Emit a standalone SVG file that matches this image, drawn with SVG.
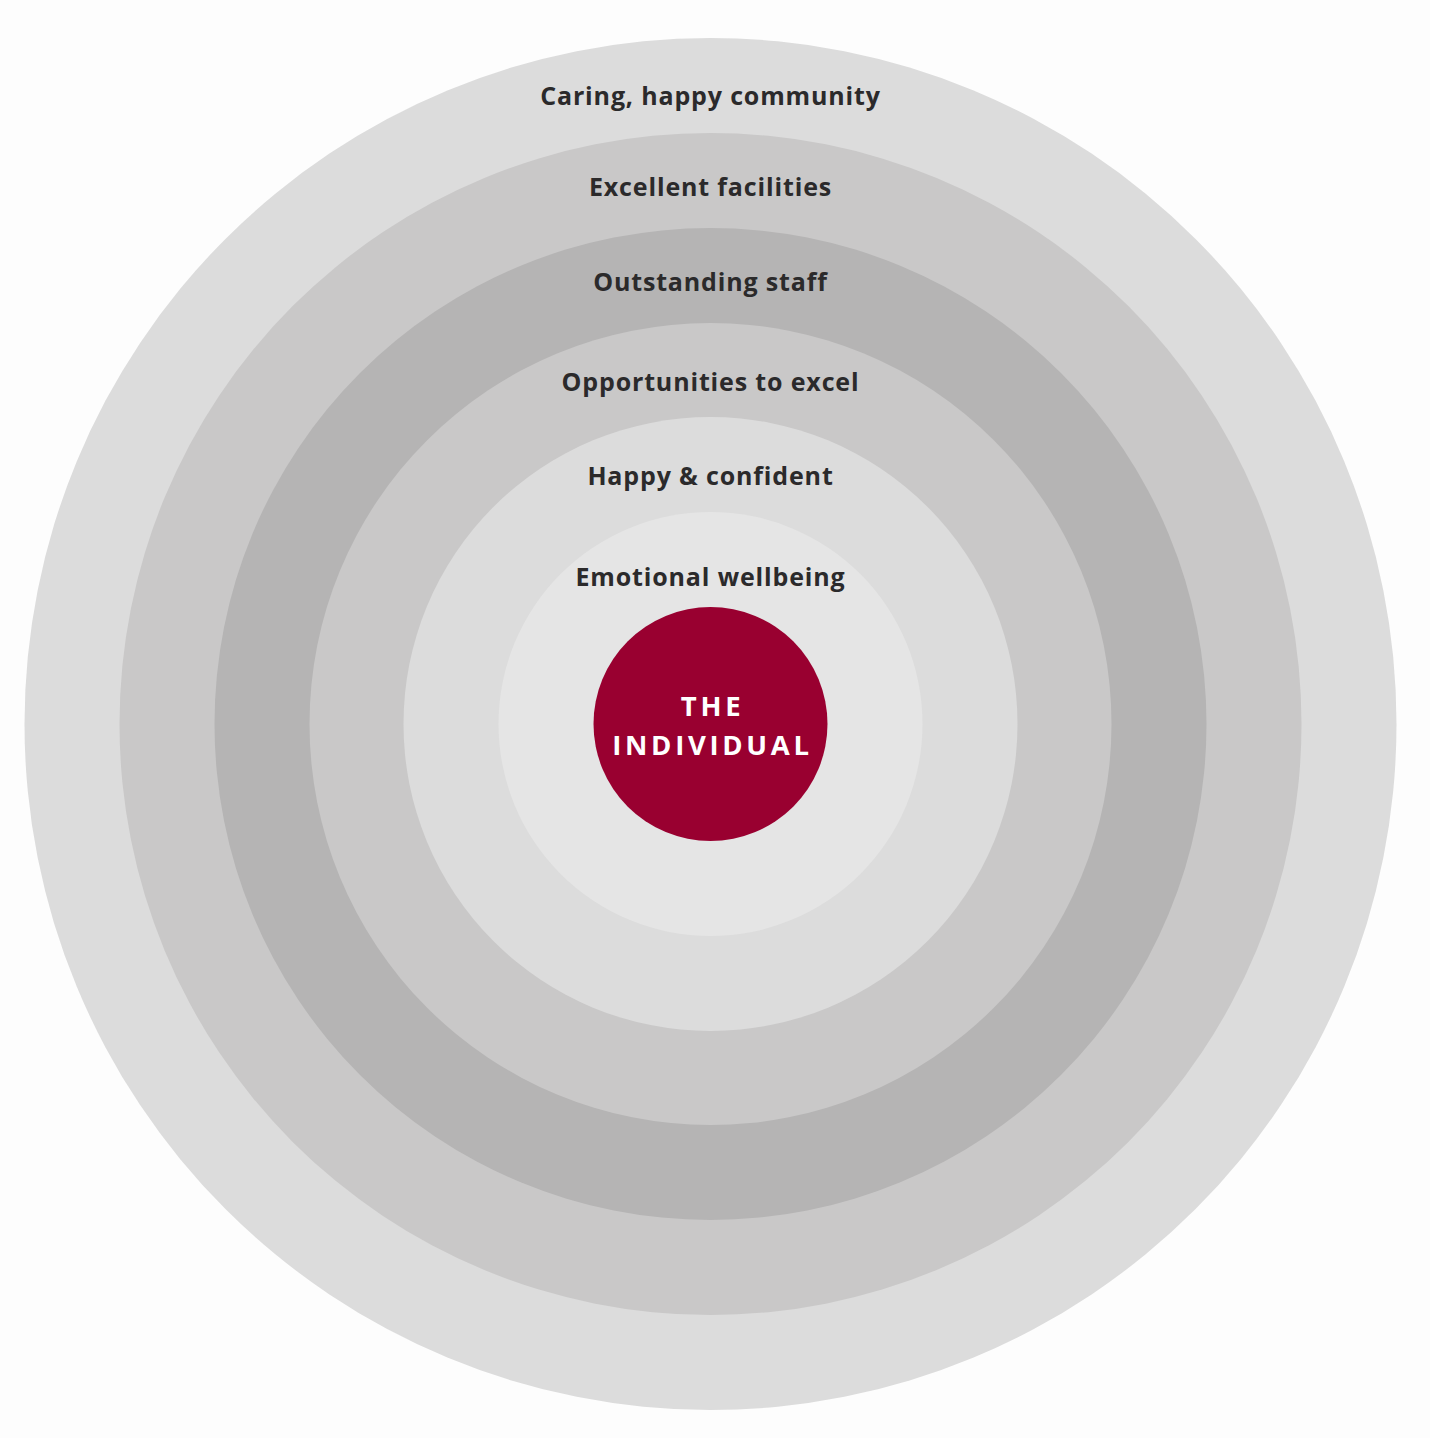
<svg xmlns="http://www.w3.org/2000/svg" width="1430" height="1438" viewBox="0 0 1430 1438">
<style>
.lbl{font-family:"Open Sans","Liberation Sans",sans-serif;font-weight:700;font-size:25px;fill:#2b2a2b;text-anchor:middle;letter-spacing:0.85px}
.ctr{font-family:"Open Sans","Liberation Sans",sans-serif;font-weight:700;font-size:27.5px;fill:#ffffff;text-anchor:middle;letter-spacing:3.7px}
</style>
<rect width="1430" height="1438" fill="#fdfdfd"/>
<g id="ring1"><circle cx="710.5" cy="724" r="686" fill="#dcdcdc"/><text class="lbl" x="710.5" y="105">Caring, happy community</text></g>
<g id="ring2"><circle cx="710.5" cy="724" r="591" fill="#c9c8c8"/><text class="lbl" x="710.5" y="196">Excellent facilities</text></g>
<g id="ring3"><circle cx="710.5" cy="724" r="496" fill="#b5b4b4"/><text class="lbl" x="710.5" y="291">Outstanding staff</text></g>
<g id="ring4"><circle cx="710.5" cy="724" r="401" fill="#c9c8c8"/><text class="lbl" x="710.5" y="391">Opportunities to excel</text></g>
<g id="ring5"><circle cx="710.5" cy="724" r="307" fill="#dcdcdc"/><text class="lbl" x="710.5" y="485">Happy &amp; confident</text></g>
<g id="ring6"><circle cx="710.5" cy="724" r="212" fill="#e5e5e5"/><text class="lbl" x="710.5" y="586">Emotional wellbeing</text></g>
<g id="center"><circle cx="710.5" cy="724" r="117" fill="#990030"/><text class="ctr" x="712.5" y="716">THE</text><text class="ctr" x="712.5" y="755">INDIVIDUAL</text></g>
<g id="connectors"/>
</svg>
